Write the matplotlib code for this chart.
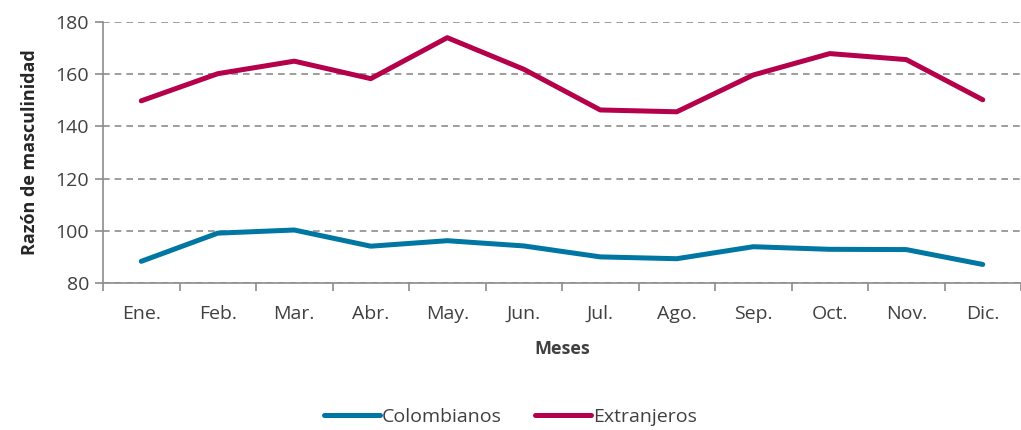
import numpy as np
import matplotlib.pyplot as plt

# Data
meses = ['Ene.', 'Feb.', 'Mar.', 'Abr.', 'May.', 'Jun.', 'Jul.', 'Ago.', 'Sep.', 'Oct.', 'Nov.', 'Dic.']
colombianos = [88.3, 99.1, 100.3, 94.1, 96.2, 94.2, 90.0, 89.3, 93.9, 92.9, 92.8, 87.1]
extranjeros = [149.8, 160.2, 165.0, 158.3, 174.0, 161.9, 146.3, 145.6, 159.7, 167.9, 165.6, 150.2]

plt.rcParams['font.family'] = ['Open Sans', 'DejaVu Sans']
gris = '#8c8c8c'
texto = '#404040'

fig = plt.figure(figsize=(10.21, 4.30), dpi=100)
ax = fig.add_axes([0.1009, 0.3419, 0.8991, 0.6069])

x = np.arange(len(meses))
ax.plot(x, colombianos, color='#0077A3', lw=3.6, label='Colombianos', solid_capstyle='round')
ax.plot(x, extranjeros, color='#B5004B', lw=3.6, label='Extranjeros', solid_capstyle='round')

ax.set_ylim(80, 180)
ax.set_yticks(np.arange(80, 181, 20))
ax.set_xlim(-0.5, 11.33)
ax.set_xticks(x)
ax.set_xticklabels(meses)
ax.set_xticks(np.arange(-0.5, 12, 1), minor=True)
ax.tick_params(axis='x', which='major', length=0, pad=16, labelsize=14, labelcolor=texto)
ax.tick_params(axis='x', which='minor', length=6, width=1.2, color=gris, direction='out')
ax.tick_params(axis='y', length=6, width=1.2, color=gris, labelsize=14, labelcolor=texto, pad=4)

ax.yaxis.grid(True, linestyle=(0, (4, 3)), color=gris, lw=1.2)
ax.set_axisbelow(True)
for s in ['top', 'right']:
    ax.spines[s].set_visible(False)
for s in ['left', 'bottom']:
    ax.spines[s].set_color(gris)
    ax.spines[s].set_linewidth(1.2)

ax.set_ylabel('Razón de masculinidad', fontsize=13, fontweight='bold', color='#262626', labelpad=12)
ax.set_xlabel('Meses', fontsize=13, fontweight='bold', color=texto, labelpad=12)

fig.legend(loc='center', bbox_to_anchor=(0.5, 0.03), ncol=2, frameon=False,
           fontsize=14, handlelength=2.9, handletextpad=0.1, columnspacing=1.7,
           labelcolor=texto)

fig.savefig('out.png', dpi=100)
